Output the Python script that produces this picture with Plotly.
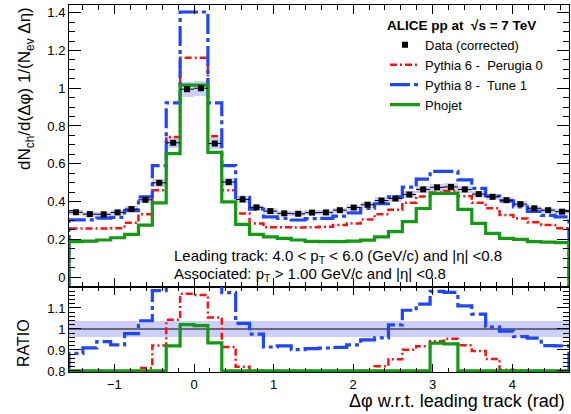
import numpy as np
import plotly.graph_objects as go

# Delta-phi binning: 36 bins from -pi/2 to 3pi/2
n_bins = 36
edges = np.linspace(-np.pi / 2, 3 * np.pi / 2, n_bins + 1)
centers = 0.5 * (edges[:-1] + edges[1:])
widths = np.diff(edges)

# dN_ch/d(dphi) 1/(N_ev d_eta) per bin
data = [0.343, 0.333, 0.332, 0.342, 0.360, 0.409, 0.499, 0.711, 0.995, 1.000, 0.707, 0.503,
        0.411, 0.369, 0.349, 0.337, 0.335, 0.341, 0.342, 0.354, 0.368, 0.383, 0.405, 0.416,
        0.437, 0.464, 0.475, 0.477, 0.464, 0.439, 0.425, 0.407, 0.386, 0.364, 0.354, 0.346]
pythia6 = [0.257, 0.257, 0.257, 0.258, 0.287, 0.333, 0.460, 0.742, 1.162, 1.162, 0.746, 0.460,
           0.337, 0.284, 0.263, 0.263, 0.262, 0.263, 0.266, 0.275, 0.284, 0.305, 0.333, 0.356,
           0.394, 0.426, 0.447, 0.455, 0.428, 0.393, 0.364, 0.328, 0.310, 0.290, 0.276, 0.258]
pythia8 = [0.303, 0.303, 0.312, 0.316, 0.352, 0.425, 0.590, 0.922, 1.404, 1.404, 0.922, 0.590,
           0.422, 0.360, 0.319, 0.310, 0.302, 0.309, 0.311, 0.323, 0.340, 0.363, 0.388, 0.424,
           0.476, 0.519, 0.560, 0.560, 0.515, 0.470, 0.429, 0.403, 0.372, 0.348, 0.326, 0.318]
phojet = [0.187, 0.190, 0.196, 0.208, 0.226, 0.275, 0.393, 0.654, 1.016, 1.016, 0.660, 0.398,
          0.279, 0.226, 0.213, 0.205, 0.196, 0.189, 0.187, 0.187, 0.190, 0.195, 0.213, 0.240,
          0.293, 0.363, 0.443, 0.443, 0.358, 0.284, 0.231, 0.205, 0.199, 0.187, 0.185, 0.182]
sys_rel = 0.04  # relative systematic uncertainty on the data

main_range = [-0.053, 1.441]
ratio_range = [0.795, 1.2]
ratio_floor = 0.8

FONT = "Liberation Sans, Arial, Helvetica, sans-serif"
RED = "#ff1010"
BLUE = "#1f45ff"
GREEN = "#139a13"
BAND = "rgba(190,190,248,0.75)"

data_a = np.array(data)


def step_xy(values, floor):
    """ROOT-style histogram outline, dropping to the frame at both ends."""
    v = np.asarray(values, dtype=float)
    x = np.concatenate([[edges[0]], edges, [edges[-1]]])
    y = np.concatenate([[floor], v, [v[-1]], [floor]])
    return x, y


models = [
    ("Pythia 6 -\u00a0 Perugia 0", pythia6, RED, 2.5, "7px,3px,2px,3px"),
    ("Pythia 8 -\u00a0 Tune 1", pythia8, BLUE, 3.2, "20px,4px,4px,4px"),
    ("Phojet", phojet, GREEN, 3.2, "solid"),
]

fig = go.Figure()

# systematic band around the data points
fig.add_trace(go.Bar(
    x=centers, y=2 * sys_rel * data_a, base=data_a * (1 - sys_rel), width=widths,
    marker=dict(color=BAND, line=dict(width=0)), showlegend=False,
    xaxis="x", yaxis="y", hoverinfo="skip"))

rank = {"Pythia 6 -\u00a0 Perugia 0": 2, "Pythia 8 -\u00a0 Tune 1": 3, "Phojet": 4}
for name, vals, color, lw, dash in models:
    x, y = step_xy(vals, main_range[0])
    fig.add_trace(go.Scatter(
        x=x, y=y, mode="lines", line=dict(shape="hv", color=color, width=lw, dash=dash),
        name=name, legendrank=rank[name], xaxis="x", yaxis="y"))

fig.add_trace(go.Scatter(
    x=centers, y=data, mode="markers", name="Data (corrected)", legendrank=1,
    marker=dict(symbol="square", size=6, color="black"),
    error_x=dict(type="data", array=widths / 2, color="black", thickness=1, width=0),
    xaxis="x", yaxis="y"))

# ratio panel: MC / data
fig.add_trace(go.Bar(
    x=centers, y=np.full(n_bins, 2 * sys_rel), base=np.full(n_bins, 1 - sys_rel), width=widths,
    marker=dict(color=BAND, line=dict(width=0)), showlegend=False,
    xaxis="x2", yaxis="y2", hoverinfo="skip"))
x1, y1 = step_xy(data_a / data_a, ratio_floor)
fig.add_trace(go.Scatter(x=x1[1:-1], y=y1[1:-1], mode="lines",
                         line=dict(shape="hv", color="black", width=1.2),
                         showlegend=False, xaxis="x2", yaxis="y2"))
for name, vals, color, lw, dash in [models[1], models[0], models[2]]:
    ratio = np.maximum(np.asarray(vals) / data_a, ratio_floor)
    x, y = step_xy(ratio, ratio_range[0])
    fig.add_trace(go.Scatter(
        x=x, y=y, mode="lines", line=dict(shape="hv", color=color, width=lw, dash=dash),
        showlegend=False, xaxis="x2", yaxis="y2"))

split = (372 - 287) / 367.0

axis_common = dict(showline=True, linecolor="black", linewidth=1, mirror="ticks",
                   ticks="inside", tickcolor="black", zeroline=False, showgrid=False,
                   tickfont=dict(family=FONT, size=13, color="black"))

fig.update_layout(
    width=571, height=414, autosize=False,
    margin=dict(l=69, r=2, t=5, b=42),
    paper_bgcolor="white", plot_bgcolor="white",
    barmode="overlay", bargap=0,
    font=dict(family=FONT, color="black"),
    xaxis=dict(domain=[0, 1], range=[edges[0], edges[-1]], anchor="y", showticklabels=False,
               tick0=0, dtick=1, ticklen=9, minor=dict(ticks="inside", dtick=0.2, tick0=0, ticklen=5,
                                                       tickcolor="black"),
               **axis_common),
    yaxis=dict(domain=[split, 1], range=main_range, anchor="x", tick0=0, dtick=0.2, ticklen=12,
               minor=dict(ticks="inside", dtick=0.05, tick0=0, ticklen=6, tickcolor="black"),
               **axis_common),
    xaxis2=dict(domain=[0, 1], range=[edges[0], edges[-1]], anchor="y2", matches="x",
                tick0=0, dtick=1, ticklen=8, minor=dict(ticks="inside", dtick=0.2, tick0=0, ticklen=4,
                                                        tickcolor="black"),
                **axis_common),
    yaxis2=dict(domain=[0, split], range=ratio_range, anchor="x2", tickvals=[0.8, 0.9, 1, 1.1],
                ticklen=12, minor=dict(ticks="inside", dtick=0.02, tick0=0, ticklen=6, tickcolor="black"),
                **axis_common),
    legend=dict(x=0.632, y=0.98, xanchor="left", yanchor="top", bgcolor="rgba(0,0,0,0)",
                font=dict(family=FONT, size=13, color="black"),
                title=dict(text="<b>ALICE pp at  √s = 7 TeV</b>",
                           font=dict(family=FONT, size=13.5, color="black"))),
)

annotations = [
    dict(text="dN<sub>ch</sub>/d(Δφ) 1/(N<sub>ev</sub> Δη)", x=(26 - 69) / 500, y=(372 - 89) / 367,
         textangle=-90, font=dict(size=17)),
    dict(text="RATIO", x=(23 - 69) / 500, y=(372 - 343) / 367, textangle=-90, font=dict(size=16)),
    dict(text="Δφ w.r.t. leading track (rad)", x=0.996, y=(372 - 401) / 367, xanchor="right",
         font=dict(size=18)),
    dict(text="Leading track: 4.0 &lt; p<sub>T</sub> &lt; 6.0 (GeV/c) and |η| &lt;0.8",
         x=(172 - 69) / 500, y=(372 - 256) / 367, xanchor="left", font=dict(size=15)),
    dict(text="Associated: p<sub>T</sub> &gt; 1.00 GeV/c and |η| &lt;0.8",
         x=(172 - 69) / 500, y=(372 - 274) / 367, xanchor="left", font=dict(size=15)),
]
for a in annotations:
    a.setdefault("xanchor", "center")
    fig.add_annotation(xref="paper", yref="paper", showarrow=False, yanchor="middle",
                       **{k: v for k, v in a.items() if k != "font"},
                       font=dict(family=FONT, color="black", **a["font"]))

fig.write_html("out.html")
